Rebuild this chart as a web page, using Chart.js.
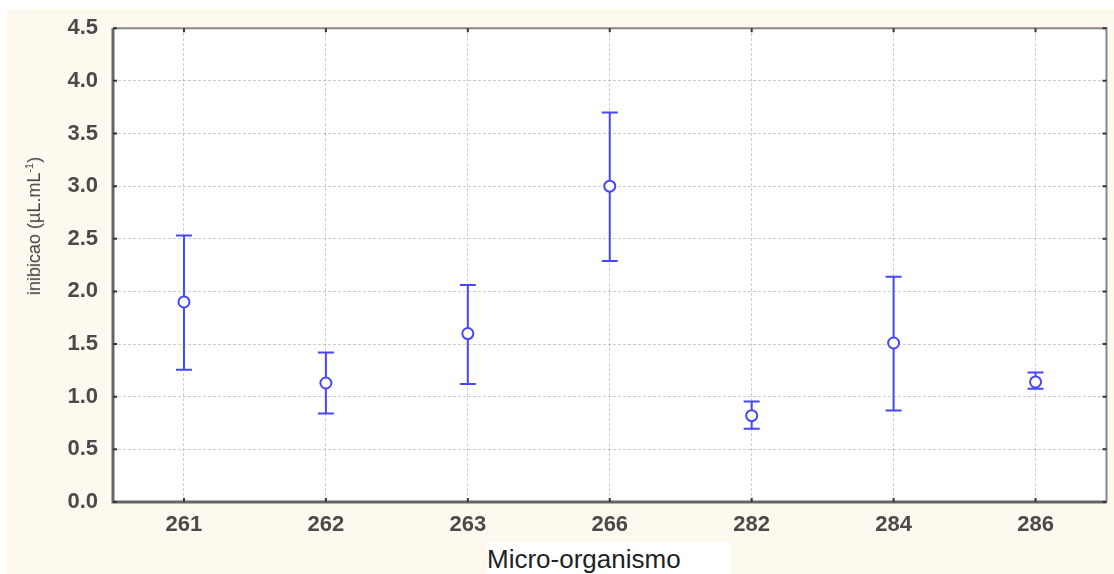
<!DOCTYPE html>
<html>
<head>
<meta charset="utf-8">
<script src="https://cdn.jsdelivr.net/npm/chart.js@4"></script>
<style>
  body { margin: 0; background: #fff; }
  #wrap { position: relative; width: 1114px; height: 574px; }
  #xTitle {
    position: absolute; left: 487px; top: 542px; width: 244px; height: 32px;
    background: #fff; font: 26px "Liberation Sans", Arial, sans-serif; color: #222;
    line-height: 34px; white-space: nowrap;
  }
  #yTitle {
    position: absolute; left: 34px; top: 226px;
    transform: translate(-50%, -50%) rotate(-90deg);
    font: 18px "Liberation Sans", Arial, sans-serif; color: #444; white-space: nowrap;
  }
</style>
</head>
<body>
<div id="wrap">
  <canvas id="chart" width="1114" height="574"></canvas>
  <div id="yTitle">inibicao (µL.mL<sup style="font-size:11px">-1</sup>)</div>
  <div id="xTitle">Micro-organismo</div>
</div>
<script>
const organisms = ['261', '262', '263', '266', '282', '284', '286'];
const means = [1.90, 1.13, 1.60, 3.00, 0.82, 1.51, 1.14];
const upper = [2.53, 1.42, 2.06, 3.70, 0.955, 2.14, 1.23];
const lower = [1.255, 0.84, 1.12, 2.29, 0.695, 0.87, 1.075];

const blue = '#4646ff';

// cream page background + plot frame
const framePlugin = {
  id: 'frame',
  beforeDraw(chart) {
    const c = chart.ctx;
    const a = chart.chartArea;
    c.save();
    c.fillStyle = '#fdf9ef';
    c.fillRect(7, 9, chart.width - 7, chart.height - 9);
    c.fillStyle = '#fff';
    c.fillRect(a.left, a.top, a.right - a.left, a.bottom - a.top);
    c.restore();
  },
  afterDraw(chart) {
    const c = chart.ctx;
    const a = chart.chartArea;
    const xs = chart.scales.x, ys = chart.scales.y;
    c.save();
    c.strokeStyle = '#888';
    c.lineWidth = 2;
    c.beginPath();
    c.moveTo(a.left, a.top); c.lineTo(a.right, a.top); c.lineTo(a.right, a.bottom);
    c.stroke();
    c.strokeStyle = '#666';
    c.lineWidth = 3;
    c.beginPath();
    c.moveTo(a.left, a.top); c.lineTo(a.left, a.bottom); c.lineTo(a.right, a.bottom);
    c.stroke();
    // small inner ticks
    c.strokeStyle = '#333';
    c.lineWidth = 2;
    c.beginPath();
    organisms.forEach((o, i) => {
      const x = xs.getPixelForValue(i);
      c.moveTo(x, a.bottom); c.lineTo(x, a.bottom - 4);
      c.moveTo(x, a.top); c.lineTo(x, a.top + 4);
    });
    ys.ticks.forEach(t => {
      const y = ys.getPixelForValue(t.value);
      c.moveTo(a.left, y); c.lineTo(a.left + 4, y);
      c.moveTo(a.right, y); c.lineTo(a.right - 4, y);
    });
    c.stroke();
    c.restore();
  }
};

// whiskers drawn through the chart scales
const errorBarPlugin = {
  id: 'errorBars',
  beforeDatasetsDraw(chart) {
    const c = chart.ctx;
    const xs = chart.scales.x, ys = chart.scales.y;
    c.save();
    c.strokeStyle = blue;
    c.lineWidth = 2;
    organisms.forEach((o, i) => {
      const x = xs.getPixelForValue(i);
      const yu = ys.getPixelForValue(upper[i]);
      const yl = ys.getPixelForValue(lower[i]);
      c.beginPath();
      c.moveTo(x, yu); c.lineTo(x, yl);
      c.moveTo(x - 8, yu); c.lineTo(x + 8, yu);
      c.moveTo(x - 8, yl); c.lineTo(x + 8, yl);
      c.stroke();
    });
    c.restore();
  }
};

const tickFont = { family: '"Liberation Sans", Arial, sans-serif', size: 22, weight: 'bold' };

new Chart(document.getElementById('chart').getContext('2d'), {
  type: 'line',
  data: {
    labels: organisms,
    datasets: [{
      data: means,
      showLine: false,
      borderColor: blue,
      backgroundColor: '#fff',
      pointBackgroundColor: '#fff',
      pointBorderColor: blue,
      pointBorderWidth: 2,
      pointRadius: 5.5,
      pointStyle: 'circle'
    }]
  },
  options: {
    responsive: false,
    animation: false,
    layout: { padding: { top: 25, right: 1, left: 0, bottom: 0 } },
    plugins: { legend: { display: false }, tooltip: { enabled: false } },
    scales: {
      x: {
        type: 'category',
        offset: true,
        afterFit(s) { s.height = 72; },
        border: { display: false, dash: [3, 2] },
        grid: { color: 'rgba(0,0,0,0.2)', drawTicks: false, offset: false },
        ticks: { color: '#4a4a4a', font: tickFont, padding: 10, maxRotation: 0 }
      },
      y: {
        min: 0,
        max: 4.5,
        afterFit(s) { s.width = 113; },
        border: { display: false, dash: [3, 2] },
        grid: { color: 'rgba(0,0,0,0.2)', drawTicks: false },
        ticks: {
          stepSize: 0.5,
          color: '#4a4a4a',
          font: tickFont,
          padding: 15,
          callback: v => v.toFixed(1)
        }
      }
    }
  },
  plugins: [framePlugin, errorBarPlugin]
});
</script>
</body>
</html>
